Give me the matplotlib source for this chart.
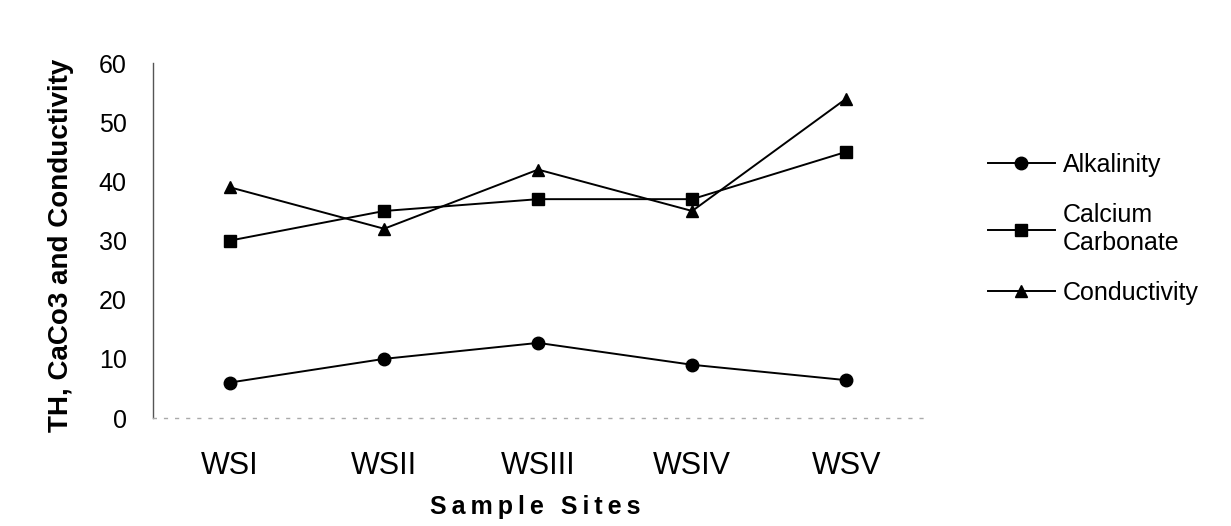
import numpy as np
import matplotlib.pyplot as plt

plt.rcParams['font.family'] = ['Liberation Sans', 'DejaVu Sans']

# data
sites = ['WSI', 'WSII', 'WSIII', 'WSIV', 'WSV']
alkalinity = [6, 10, 12.7, 9, 6.4]
caco3 = [30, 35, 37, 37, 45]
conductivity = [39, 32, 42, 35, 54]

fig = plt.figure(figsize=(12.31, 5.26), dpi=100)
ax = fig.add_axes([0.1243, 0.2053, 0.6257, 0.6747])

x = np.arange(len(sites))
ax.plot(x, alkalinity, color='black', lw=1.4, marker='o', ms=9, label='Alkalinity')
ax.plot(x, caco3, color='black', lw=1.4, marker='s', ms=8, label='Calcium\nCarbonate')
ax.plot(x, conductivity, color='black', lw=1.4, marker='^', ms=9, label='Conductivity')

ax.set_xlim(-0.5, 4.5)
ax.set_ylim(0, 60)
ax.set_yticks(range(0, 61, 10))
ax.set_xticks(x)
ax.set_xticklabels(sites, fontsize=22)
ax.tick_params(axis='y', labelsize=18, length=0, pad=19)
ax.tick_params(axis='x', length=0, pad=24)

for s in ['top', 'right']:
    ax.spines[s].set_visible(False)
ax.spines['left'].set_color('#555555')
ax.spines['left'].set_linewidth(1.0)
ax.spines['bottom'].set_color('#aaaaaa')
ax.spines['bottom'].set_linestyle((0, (2, 6)))
ax.spines['bottom'].set_linewidth(1.0)

# thin spaces widen the letter spacing like the original
xlab = '\u2009'.join('Sample') + '\u2009 \u2009' + '\u2009'.join('Sites')
ax.set_xlabel(xlab, fontsize=18, fontweight='bold', va='center')
ax.xaxis.set_label_coords(0.496, -0.251)
ax.set_ylabel('TH, CaCo3 and Conductivity', fontsize=20, fontweight='bold', va='center')
ax.yaxis.set_label_coords(-0.119, 0.487)

leg = fig.legend(loc='upper left', bbox_to_anchor=(0.784, 0.752), frameon=False,
                 fontsize=18, handlelength=2.7, handletextpad=0.3, labelspacing=1.05)

fig.savefig('out.png', dpi=100)
